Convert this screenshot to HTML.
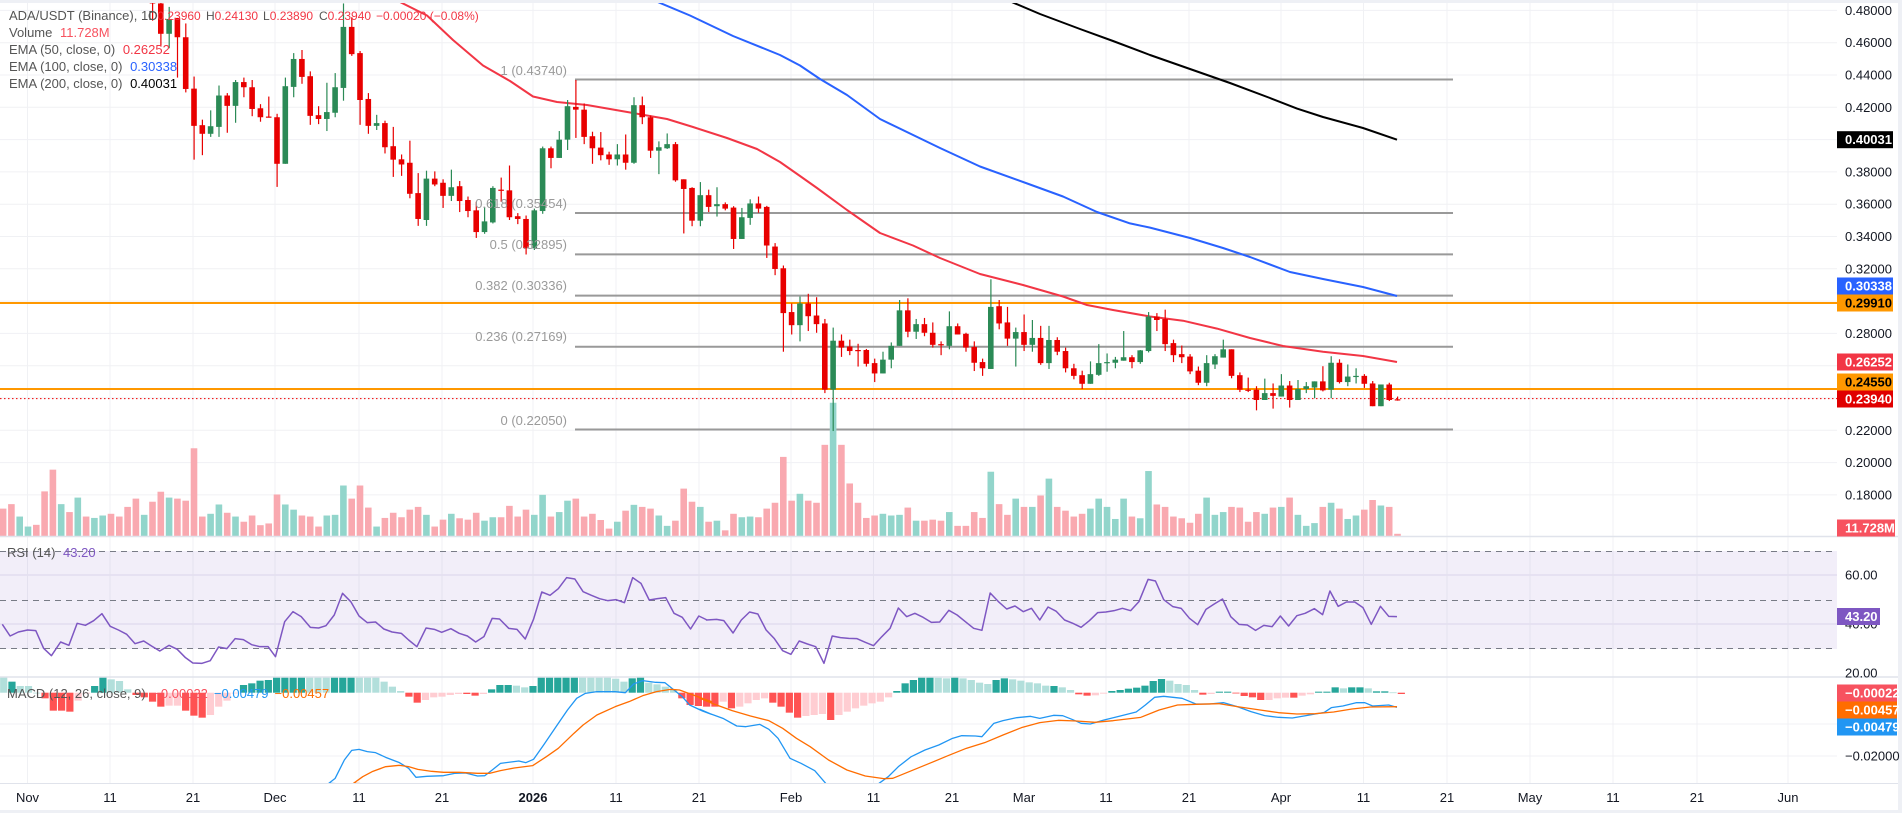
<!DOCTYPE html>
<html><head><meta charset="utf-8">
<style>
html,body{margin:0;padding:0;background:#fff;}
svg{display:block;font-family:"Liberation Sans",Arial,sans-serif;}
</style></head>
<body>
<svg id="s" width="1902" height="813" viewBox="0 0 1902 813" xmlns="http://www.w3.org/2000/svg">
<rect x="0" y="0" width="1902" height="813" fill="#fff"/>
<rect x="0" y="0" width="1902" height="3" fill="#eef0f5"/>
<rect x="0" y="810" width="1902" height="3" fill="#eef0f5"/>
<rect x="1898" y="0" width="4" height="813" fill="#eef0f5"/>
<g id="grid"></g>
<rect x="0" y="551" width="1837" height="98" fill="#7e57c2" fill-opacity="0.1"/>
<line x1="0" y1="551.5" x2="1837" y2="551.5" stroke="#787b86" stroke-dasharray="6,5"/>
<line x1="0" y1="600.5" x2="1837" y2="600.5" stroke="#787b86" stroke-dasharray="6,5"/>
<line x1="0" y1="648.5" x2="1837" y2="648.5" stroke="#787b86" stroke-dasharray="6,5"/>
<defs>
<clipPath id="cp"><rect x="0" y="3" width="1837" height="533"/></clipPath>
<clipPath id="cm"><rect x="0" y="677" width="1837" height="106"/></clipPath>
</defs>
<g id="price" clip-path="url(#cp)"></g>
<g id="rsi"></g>
<g id="macd" clip-path="url(#cm)"></g>
<line x1="0" y1="536.5" x2="1898" y2="536.5" stroke="#e0e3eb" stroke-width="1.5"/>
<line x1="0" y1="677" x2="1898" y2="677" stroke="#e0e3eb" stroke-width="1.5"/>
<line x1="0" y1="783.5" x2="1898" y2="783.5" stroke="#e0e3eb"/>
<g font-size="13" fill="#131722">
<text x="9" y="20"><tspan fill="#555">ADA/USDT (Binance), 1D</tspan></text>
<g font-size="12">
<text x="148" y="20" fill="#555">O<tspan fill="#f23645">0.23960</tspan></text>
<text x="206" y="20" fill="#555">H<tspan fill="#f23645">0.24130</tspan></text>
<text x="263" y="20" fill="#555">L<tspan fill="#f23645">0.23890</tspan></text>
<text x="319" y="20" fill="#555">C<tspan fill="#f23645">0.23940</tspan></text>
<text x="376" y="20" fill="#f23645">−0.00020 (−0.08%)</text>
</g>
<text x="9" y="37" fill="#555">Volume <tspan dx="4" fill="#f7525f">11.728M</tspan></text>
<text x="9" y="54" fill="#555">EMA (50, close, 0) <tspan dx="4" fill="#f23645">0.26252</tspan></text>
<text x="9" y="71" fill="#555">EMA (100, close, 0) <tspan dx="4" fill="#2962ff">0.30338</tspan></text>
<text x="9" y="88" fill="#555">EMA (200, close, 0) <tspan dx="4" fill="#000">0.40031</tspan></text>
<text x="7" y="557" fill="#555">RSI (14) <tspan dx="4" fill="#7e57c2">43.20</tspan></text>
<text x="7" y="698" fill="#555">MACD (12, 26, close, 9) <tspan dx="4" fill="#f7525f">−0.00022</tspan><tspan dx="6" fill="#2196f3">−0.00479</tspan><tspan dx="6" fill="#ff6d00">−0.00457</tspan></text>
</g>
<g id="fibl" font-size="13" fill="#9a9a9a" text-anchor="end">
<text x="567" y="75">1 (0.43740)</text>
<text x="567" y="208">0.618 (0.35454)</text>
<text x="567" y="249">0.5 (0.32895)</text>
<text x="567" y="290">0.382 (0.30336)</text>
<text x="567" y="341">0.236 (0.27169)</text>
<text x="567" y="425">0 (0.22050)</text>
</g>
<g id="axis" font-size="13" fill="#131722"></g>
<g id="dates" font-size="13" fill="#131722" text-anchor="middle"></g>
</svg>
<script>
var NS="http://www.w3.org/2000/svg";
function el(p,t,a,txt){var e=document.createElementNS(NS,t);for(var k in a)e.setAttribute(k,a[k]);if(txt!=null)e.textContent=txt;document.getElementById(p).appendChild(e);return e;}
function Y(p){return 10.4+(0.48-p)*1615;}
for(var k=0;k<=15;k++){var y=10.4+k*32.3;el('grid','line',{x1:0,x2:1837,y1:y,y2:y,stroke:'#f0f1f4'});}
[575,624].forEach(function(y){el('grid','line',{x1:0,x2:1837,y1:y,y2:y,stroke:'#e6e2f0'});});
[724,756].forEach(function(y){el('grid','line',{x1:0,x2:1837,y1:y,y2:y,stroke:'#f0f1f4'});});
var dates=[[27.5,'Nov'],[110,'11'],[193,'21'],[275,'Dec'],[359,'11'],[442,'21'],[533,'2026'],[616,'11'],[699,'21'],[791,'Feb'],[873.5,'11'],[952,'21'],[1024,'Mar'],[1106,'11'],[1189,'21'],[1281,'Apr'],[1363.5,'11'],[1447,'21'],[1530,'May'],[1613,'11'],[1697,'21'],[1788,'Jun']];
dates.forEach(function(d){el('grid','line',{x1:d[0],x2:d[0],y1:3,y2:783,stroke:'#f0f1f4'});var t=el('dates','text',{x:d[0],y:802},d[1]);if(d[1]=='2026')t.setAttribute('font-weight','bold');});
[79.5,213,254.4,295.6,346.8,429.5].forEach(function(y){el('price','line',{x1:575,x2:1453,y1:y,y2:y,stroke:'#999',"stroke-width":2});});
el('price','line',{x1:0,x2:1837,y1:303,y2:303,stroke:'#ff9800',"stroke-width":2});
el('price','line',{x1:0,x2:1837,y1:389,y2:389,stroke:'#ff9800',"stroke-width":2});
el('price','line',{x1:0,x2:1837,y1:398.6,y2:398.6,stroke:'#e00','stroke-dasharray':'1.5,2.5'});
var vol=[[1475,'r'],[1462,'r'],[1498,'g'],[1527,'g'],[1522,'r'],[1425,'r'],[1362,'r'],[1462,'g'],[1485,'r'],[1443,'g'],[1498,'r'],[1502,'g'],[1495,'g'],[1490,'r'],[1498,'r'],[1470,'r'],[1446,'r'],[1493,'g']];
var vv=[1455,1426,1443,1446,1452,1300,1498,1490,1463,1487,1498,1513,1495,1523,1518,1434,1463,1478,1495,1498,1527,1495,1493,1408,1446,1408,1472,1527,1502,1487,
1500,1478,1470,1493,1527,1507,1490,1503,1507,1487,1510,1500,1500,1467,1498,1478,1493,1435,1498,1485,1452,1446,1498,1490,1508,1533,1513,1481,1464,1470,1475,1495,1525,1510,1417,1455,1470,1513,1510,1538,1490,1500,1498,1500,1475,1458,1325,
1452,1432,1452,1458,1290,1168,1290,1402,1458,1502,1495,1490,1495,1493,1472,1510,1510,1507,1510,1485,1525,1525,1485,1502,1368,1462,1493,1446,1470,1470,1437,1388,1470,1481,1498,1490,1475,1446,1470,1505,1446,1498,1503,1366,1463,1470,1498,
1503,1516,1490,1443,1493,1485,1470,1472,1513,1485,1490,1472,1470,1443,1493,1525,1517,1470,1458,1475,1505,1495,1478,1450,1466,1470,1548];
var C=("r 5 10 0 60|r 10 98 5 135|g 55 98 20 140|r 52 108 52 225|r 108 258 68 268|r 257 365 222 463|r 363 388 347 450|g 366 388 320 397|g 277 368 248 397|r 277 307 270 385|g 238 307 232 356|r 238 253 225 282|r 253 316 232 337|r 314 340 302 353|r 338 341 280 341|r 340 475 330 542|g 250 475 225 475|g 171 252 154 282|r 171 223 145 243|r 221 336 207 362|r 334 345 308 360|g 325 345 240 380|g 253 327 212 340|g 78 255 10 292|r 78 157 50 162|r 154 290 148 362|r 287 365 270 388|g 357 365 333 377|r 357 427 350 445|r 424 463 368 513|"+
"r 462 477 448 510|r 472 562 408 575|r 560 635 502 655|g 518 638 495 655|r 518 535 497 540|r 530 568 520 603|g 543 568 492 583|r 540 583 525 615|r 580 612 570 630|r 610 673 585 690|g 642 673 600 678|g 545 645 540 648|r 550 553 515 585|r 552 630 480 638|r 627 635 618 650|r 635 720 625 738|g 610 720 605 725|g 430 612 425 620|r 430 458 425 488|g 405 458 380 458|g 308 405 290 435|r 310 318 232 400|r 318 397 300 418|r 395 430 382 475|r 428 450 383 465|r 448 462 440 478|g 448 462 418 480|r 448 472 390 492|g 305 472 282 475|r 305 340 280 360|r 340 437 335 458|g 427 437 410 505|g 418 430 387 432|r 418 523 412 527|r 520 548 520 677|r 545 640 543 656|g 566 640 528 656|r 566 600 550 615|g 592 598 543 628|r 592 605 587 610|r 602 693 598 722|g 630 693 603 693|g 590 632 578 652|r 590 605 570 617|r 600 712 597 748|r 715 780 705 798|"+
"r 778 908 770 1020|r 905 943 880 970|g 880 943 860 990|r 880 917 852 960|r 915 940 862 965|r 938 1130 925 1140|g 988 1130 950 1250|r 988 1008 970 1035|r 1005 1018 985 1030|r 1015 1018 997 1063|r 1015 1055 1012 1063|r 1053 1083 1040 1108|g 1043 1083 1020 1083|g 1003 1043 993 1068|g 900 1003 870 1003|r 900 962 865 978|g 940 962 925 983|r 940 965 922 975|r 965 1000 935 1008|r 998 1001 990 1030|g 946 1003 903 1013|r 946 970 938 970|r 968 1008 965 1020|r 1006 1052 990 1076|r 1050 1068 1040 1090|g 890 1070 810 1070|r 888 938 870 955|r 935 982 890 1003|g 963 982 950 1063|r 963 1000 912 1018|g 980 1000 928 1020|r 980 1053 945 1058|g 986 1053 945 1070|r 986 1020 978 1030|r 1018 1068 1008 1080|r 1068 1090 1055 1100|r 1088 1113 1075 1128|g 1085 1113 1048 1113|g 1053 1087 998 1090|g 1050 1053 1025 1078|g 1043 1052 1035 1068|g 1036 1046 960 1046|r 1036 1050 1030 1068|g 1016 1050 1015 1055|g 918 1018 905 1022|r 918 928 908 960|r 925 998 898 1018|r 995 1030 985 1050|"+
"r 1027 1036 1002 1053|r 1034 1077 1027 1085|r 1075 1110 1063 1117|g 1053 1110 1030 1120|g 1033 1057 1027 1070|g 1013 1037 985 1037|r 1013 1090 1013 1097|r 1088 1130 1080 1137|r 1130 1133 1095 1137|r 1130 1160 1120 1190|g 1140 1160 1098 1160|r 1140 1148 1112 1185|g 1118 1150 1085 1150|r 1118 1160 1105 1182|g 1128 1160 1102 1160|g 1120 1128 1108 1140|g 1106 1124 1106 1155|r 1106 1132 1062 1135|g 1052 1130 1033 1155|r 1052 1108 1042 1112|g 1092 1108 1057 1120|g 1090 1092 1068 1112|r 1090 1113 1085 1125|r 1112 1178 1105 1178|g 1115 1178 1115 1178|r 1115 1160 1110 1163|r 1158 1160 1150 1162").split('|');
function X(i){return 152.5+i*8.3;}
var VR='#f9a9b0',VG='#92d5cb';
for(var j=0;j<vol.length;j++){var i=j-18;var t=vol[j][0]/2.9;el('price','rect',{x:X(i)-3.3,y:t,width:6.6,height:536-t,fill:vol[j][1]=='r'?VR:VG});}
for(var i=0;i<vv.length;i++){var t=vv[i]/2.9;var c=C[i]?C[i].split(' ')[0]:'r';el('price','rect',{x:X(i)-3.3,y:t,width:6.6,height:536-t,fill:c=='r'?VR:VG});}
function pl(g,pts,col,w){el(g,'polyline',{points:pts.map(function(p){return p.join(',')}).join(' '),fill:'none',stroke:col,"stroke-width":w,"stroke-linejoin":"round"});}
pl('price',[[395,0],[400,2],[427,15.5],[453,40],[483,65.5],[510,81],[533,96.5],[557,102],[587,105],[633,113],[667,119],[693,127],[727,138],[757,149],[780,162],[800,176],[817,188],[847,210],[880,233],[913,245.5],[940,258],[980,274],[1023,285],[1063,296.5],[1087,305],[1113,310],[1150,316.5],[1183,320.7],[1217,328.6],[1250,338],[1283,346],[1323,351.7],[1363,356],[1397,362]],'#f23645',2);
pl('price',[[653,0],[690,15.5],[733,36],[780,55],[800,65.5],[820,79],[847,95],[880,119],[940,148],[980,166.5],[1030,184.5],[1063,196.5],[1097,212],[1130,223.4],[1150,227.6],[1190,238],[1223,248],[1250,257],[1290,272],[1323,279],[1363,287],[1397,296]],'#2962ff',2);
pl('price',[[1007,0],[1040,14],[1080,29],[1113,41],[1150,55],[1190,69],[1230,83],[1270,98],[1297,108.6],[1323,117],[1363,128],[1397,139.7]],'#000',2);
C.forEach(function(s,i){var a=s.split(' ');var col=a[0]=='r'?'#e80000':'#2b8a56';var bt=+a[1]/2.9,bb=+a[2]/2.9,wt=+a[3]/2.9,wb=+a[4]/2.9;var x=X(i);
el('price','rect',{x:x-0.5,y:wt,width:1.2,height:Math.max(1,wb-wt),fill:col});
el('price','rect',{x:x-2.8,y:bt,width:5.6,height:Math.max(1.2,bb-bt),fill:col});});
var r1=[[5,283],[22,318],[40,306],[60,300],[78,302],[95,355],[112,377],[132,336],[150,346],[168,280],[186,286],[204,272],[222,251],[240,289],[258,300],[276,313],[294,341],[313,333],[330,348],[348,363],[368,346],[386,358],[404,383],[420,399],[440,400],[458,392],[476,351],[494,356],[512,326],[530,329],[548,344],[566,350],[584,350],[600,380],[620,275],[638,245],[656,260],[676,292],[694,294],[710,287],[728,255],[746,190],[764,215],[782,258],[800,278],[818,276],[836,297],[854,306],[874,310],[890,330],[908,350],[928,294],[946,298],[962,307],[982,296],[1000,310],[1018,318],[1036,336],[1054,320],[1072,265],[1088,267],[1108,295],[1126,298],[1144,327],[1162,268],[1180,186],[1198,196],[1216,176],[1234,143],[1252,147],[1270,185],[1288,196],[1306,206],[1324,212],[1342,209],[1360,218],[1378,143],[1396,160],[1414,210],[1432,206],[1450,203],[1468,250],[1486,262],[1504,297],[1522,258],[1540,270]];
var r2=[[14,270],[36,268],[52,272],[72,309],[90,270],[108,246],[126,252],[144,300],[162,326],[180,362],[198,373],[216,333],[234,342],[252,350],[270,400],[288,318],[306,323],[324,325],[342,326],[360,337],[378,347],[396,320],[414,295],[432,234],[450,260],[468,250],[486,262],[504,277],[522,276],[542,241],[560,255],[578,275],[596,295],[614,301],[632,189],[650,215],[668,237],[686,228],[704,245],[722,235],[740,270],[758,231],[776,244],[794,270],[812,280],[830,292],[848,272],[866,248],[884,246],[902,242],[920,235],[938,242],[956,215],[976,148],[992,153],[1010,209],[1030,230],[1048,235],[1066,265],[1084,284],[1102,238],[1120,222],[1138,207],[1156,260],[1174,283],[1192,285],[1210,301],[1228,286],[1246,290],[1264,258],[1282,288],[1300,257],[1318,250],[1338,236],[1356,254],[1372,183],[1390,229],[1408,216],[1426,216],[1444,233],[1462,283],[1482,229],[1500,259],[1518,260]];
function tz(p,off){return [p[0]/2.178+off,p[1]/3+530];}
pl('rsi',r1.map(function(p){return tz(p,0)}).concat(r2.map(function(p){return tz(p,700)})),'#7e57c2',1.5);
var h1="440L 455D 468L 468L 488L 505R 542R 542R 545R 512P 488P 468D 440D 448L 453L 478L 495R 502R 515R 530R 527P 527P 542R 557R 563R 555P 530P 512P 488P 465D 460D 452D 450D 440D 440D 440D 440D 440L 440L 440L 440D 440D 440D 440L 440L 440L 455L 470L 483L 500R 518R 510P 502P 500P 495P 492P 492R 497R 492P 478D 465D 465D 467L 472L 468D 440D 440D 440D 440D 440D 440L 440L 440L 440L 446L 455L 445D 440D 458L 463L 470L 480L 505R 525R 528R";
var h2="530R 530R 515P 535R 530P 520P 510P 505P 518R 530R 548R 563R 558P 555P 552P 570R 555P 545P 535P 527P 520P 515P 502P 483D 460D 450D 440D 440D 443L 445L 440D 445L 450L 458L 462L 450D 445D 448L 452L 457L 460L 467L 468D 472L 480L 493R 497R 496P 491P 483D 480D 476D 473D 467D 453D 447D 452L 462L 465L 480L 494R 492P 485D 485D 488R 498R 502R 510R 510P 505P 503P 503R 497P 493P 485D 485D 472D 475L 472D 472D 475L 484D 484D 487L 492R";
var hc={L:'#b2dfdb',D:'#26a69a',R:'#ff5252',P:'#ffcdd2'};
var hs=h1.split(' ').concat(h2.split(' '));
hs.forEach(function(s,k){var v=parseFloat(s)/3+530;var c=hc[s.slice(-1)];var x=3.7+k*8.27;var z=692.7;
el('macd','rect',{x:x-3.6,y:Math.min(v,z),width:7.2,height:Math.max(0.8,Math.abs(v-z)),fill:c});});
var b1=[[716,760],[730,745],[750,690],[766,661],[782,658],[800,665],[818,668],[840,682],[870,698],[890,715],[906,742],[930,739],[966,737],[990,730],[1014,729],[1040,738],[1056,737],[1072,720],[1090,700],[1130,693],[1145,698],[1162,688],[1184,645],[1216,580],[1236,540],[1256,505],[1275,490],[1300,485],[1340,485],[1362,488],[1380,462],[1400,452],[1428,457],[1448,458],[1468,480],[1486,500],[1502,525],[1530,543],[1550,553]];
var b2=[[0,538],[20,550],[50,565],[80,588],[100,590],[130,583],[150,598],[170,625],[196,685],[220,700],[250,722],[275,762],[300,800],[370,800],[390,760],[410,740],[432,710],[460,680],[490,660],[520,645],[550,625],[570,617],[600,618],[614,620],[640,580],[660,572],[690,563],[720,559],[740,565],[770,556],[790,557],[810,568],[830,580],[850,582],[880,570],[910,560],[950,546],[970,525],[990,502],[1010,499],[1050,505],[1080,522],[1110,522],[1140,518],[1170,530],[1200,545],[1230,557],[1260,562],[1290,564],[1320,557],[1360,547],[1375,533],[1400,528],[1430,518],[1448,518],[1465,528],[1500,525],[1518,532]];
var o1=[[770,760],[790,740],[812,724],[840,710],[870,706],[890,710],[910,718],[940,724],[966,727],[1000,727],[1040,730],[1066,730],[1090,722],[1120,714],[1160,707],[1190,680],[1216,655],[1250,610],[1270,585],[1300,555],[1340,530],[1370,515],[1400,497],[1430,485],[1460,478],[1480,480],[1500,490],[1530,505],[1550,515]];
var o2=[[0,505],[30,522],[70,542],[110,558],[150,572],[180,595],[210,625],[240,650],[280,690],[320,720],[360,738],[400,746],[420,745],[450,728],[500,700],[540,677],[580,655],[620,638],[660,615],[700,593],[740,578],[780,571],[820,573],[860,577],[900,572],[960,562],[1000,540],[1040,525],[1080,523],[1130,521],[1170,530],[1220,540],[1260,548],[1300,552],[1340,551],[1380,546],[1420,537],[1460,531],[1518,530]];
pl('macd',[[700,800]].concat(b1.map(function(p){return tz(p,0)})).concat(b2.map(function(p){return tz(p,700)})),'#2196f3',1.3);
pl('macd',[[740,800]].concat(o1.map(function(p){return tz(p,0)})).concat(o2.map(function(p){return tz(p,700)})),'#ff6d00',1.3);
[0.48,0.46,0.44,0.42,0.38,0.36,0.34,0.32,0.28,0.22,0.20,0.18].forEach(function(p){el('axis','text',{x:1845,y:Y(p)+4.5},p.toFixed(5));});
el('axis','text',{x:1845,y:579.5},'60.00');el('axis','text',{x:1845,y:628.5},'40.00');el('axis','text',{x:1845,y:677.5},'20.00');
el('axis','text',{x:1845,y:760.5},'−0.02000');
function box(y,txt,bg,fg,w){el('axis','rect',{x:1837,y:y-8.5,width:w||56,height:17,fill:bg});el('axis','text',{x:1845,y:y+4.5,fill:fg,"font-weight":"bold"},txt);}
box(139.7,'0.40031','#000','#fff');
box(286,'0.30338','#2962ff','#fff');
box(303,'0.29910','#ff9800','#000');
box(362,'0.26252','#f23645','#fff');
box(382,'0.24550','#ff9800','#000');
box(399,'0.23940','#e00000','#fff');
box(528,'11.728M','#f7525f','#fff',58);
box(616.5,'43.20','#7e57c2','#fff',43);
box(693,'−0.00022','#f7525f','#fff',60);
box(710,'−0.00457','#ff6d00','#fff',60);
box(727,'−0.00479','#2196f3','#fff',60);
</script>
</body></html>
